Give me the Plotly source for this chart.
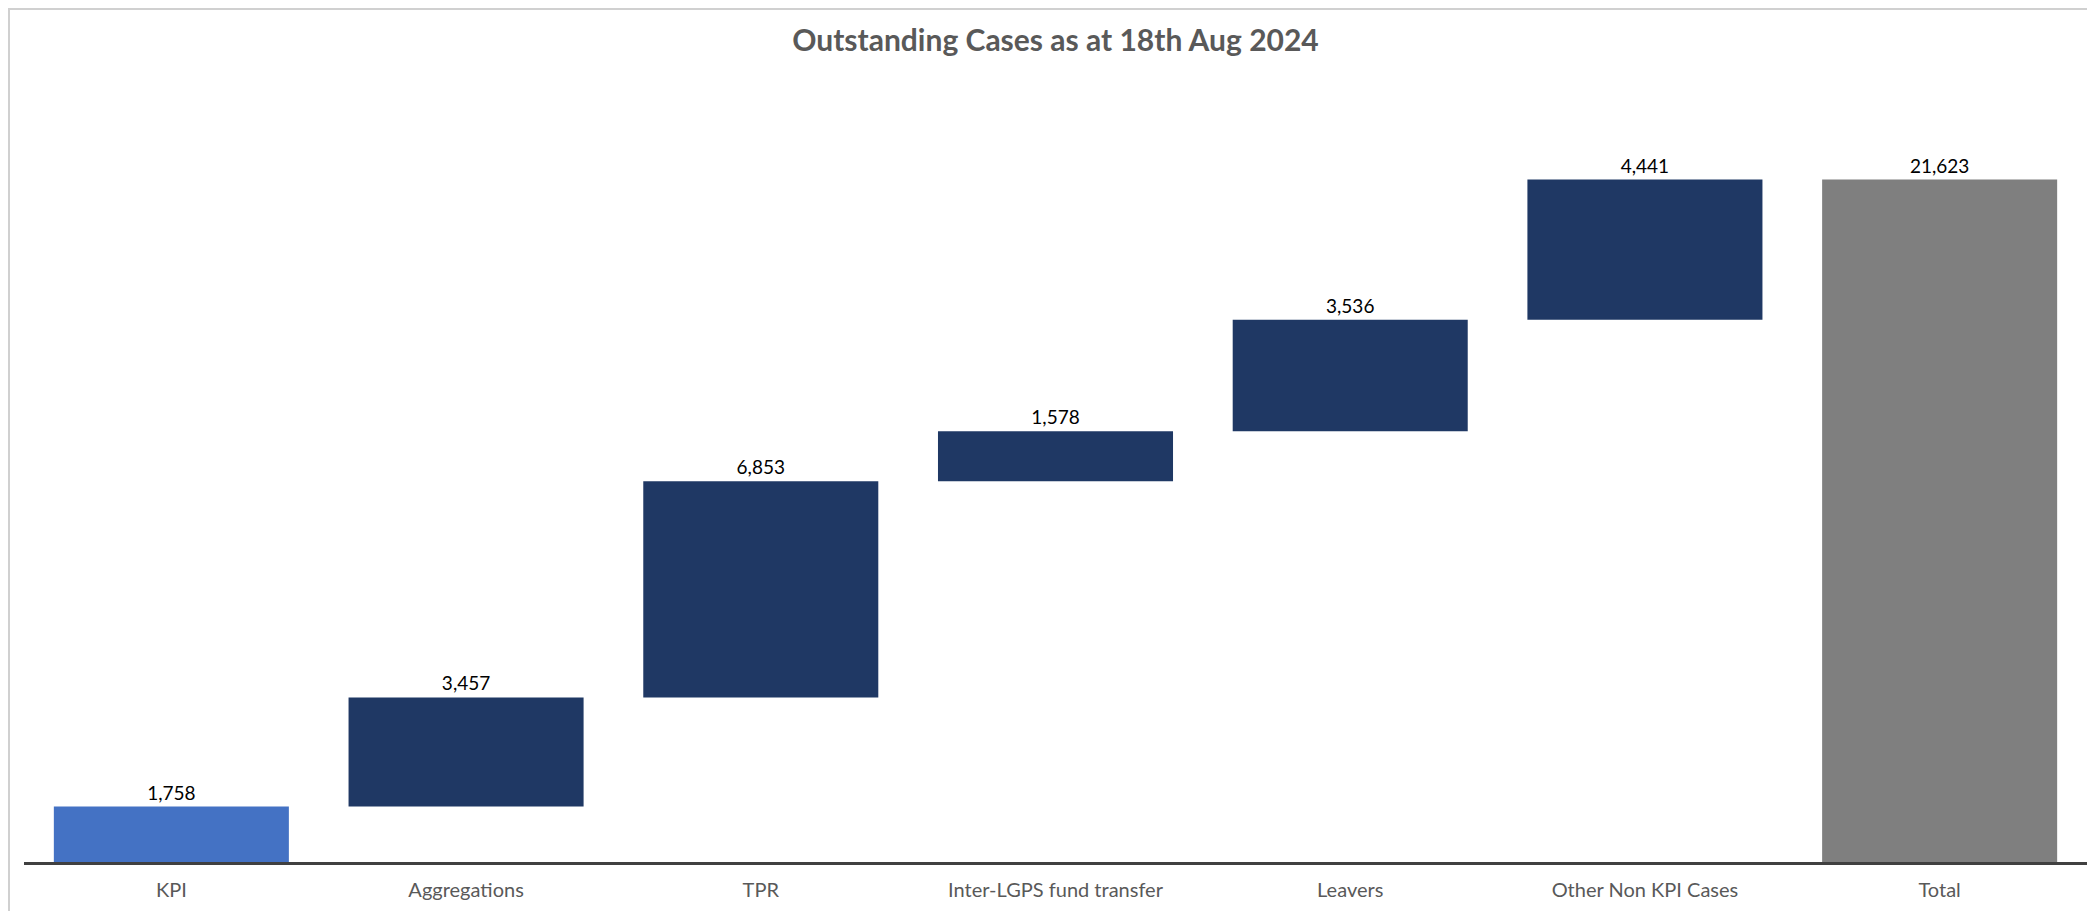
import plotly.graph_objects as go

categories = ["KPI", "Aggregations", "TPR", "Inter-LGPS fund transfer", "Leavers", "Other Non KPI Cases", "Total"]
step_values = [1758, 3457, 6853, 1578, 3536, 4441]
bar_colors = ["#4472C4", "#1F3864", "#1F3864", "#1F3864", "#1F3864", "#1F3864", "#7F7F7F"]

total = sum(step_values)
values = step_values + [total]
bases = []
running = 0
for v in step_values:
    bases.append(running)
    running += v
bases.append(0)

# page has an 8px body margin; figure sized to fit the window
W, H = 2087, 903
ml, mr, mt, mb = 16, 8, 65, 49
pw = W - ml - mr
ph = H - mt - mb

FONT = "Lato, Open Sans, sans-serif"

fig = go.Figure()
fig.add_trace(go.Bar(
    x=categories, y=values, base=bases,
    marker=dict(color=bar_colors, line=dict(width=0)),
    text=[f"{v:,}" for v in values], textposition="outside",
    textfont=dict(family=FONT, size=19, color="#000000"),
    cliponaxis=False, hoverinfo="x+y",
))

fig.update_layout(
    width=W, height=H,
    margin=dict(l=ml, r=mr, t=mt, b=mb),
    paper_bgcolor="white", plot_bgcolor="white",
    bargap=0.2025, showlegend=False,
    title=dict(text="<b>Outstanding Cases as at 18th Aug 2024</b>", x=0.5, xref="paper",
               xanchor="center", y=1 - 32 / H, yanchor="middle",
               font=dict(family=FONT, size=30, color="#595959")),
    xaxis=dict(showline=True, linecolor="#404040", linewidth=3, showgrid=False, ticks="",
               ticklabelstandoff=8,
               tickfont=dict(family=FONT, size=20, color="#595959")),
    yaxis=dict(range=[0, 25000], visible=False, showgrid=False, zeroline=False),
    shapes=[dict(type="rect", xref="paper", yref="paper",
                 x0=(1 - ml) / pw, x1=(W + 20 - ml) / pw,
                 y0=(H - mb - (H + 20)) / ph, y1=(H - mb - 1) / ph,
                 line=dict(color="#D0D0D0", width=2), fillcolor="rgba(0,0,0,0)", layer="below")],
)

fig.write_html("out.html")
